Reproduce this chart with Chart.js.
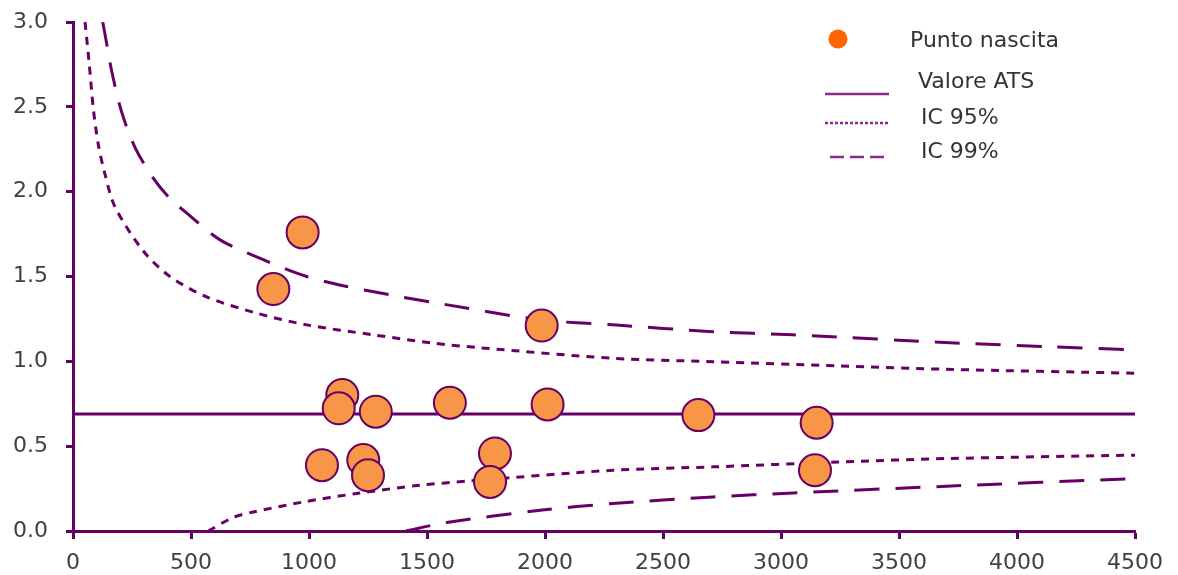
<!DOCTYPE html>
<html>
<head>
<meta charset="utf-8">
<script src="https://cdn.jsdelivr.net/npm/chart.js@4"></script>
<style>
  html, body { margin: 0; padding: 0; background: #fff; }
  #wrap { width: 1178px; height: 575px; }
</style>
</head>
<body>
<div id="wrap"><canvas id="funnelChart" width="1178" height="575"></canvas></div>
<script>
// Punti nascita: volume parti (x) e valore osservato (y)
const pointX = [973, 849, 1986, 1141, 1126, 1283, 1597, 2011, 2650, 3151, 1055, 1230, 1250, 1788, 1767, 3144];
const pointY = [1.76, 1.426, 1.211, 0.801, 0.723, 0.703, 0.756, 0.746, 0.683, 0.638, 0.388, 0.418, 0.329, 0.457, 0.289, 0.358];

// Valore ATS
const atsX = [0, 4500];
const atsY = [0.69, 0.69];

// Limiti di controllo
const up95X = [51, 69, 86, 107, 136, 178, 298, 411, 566, 778, 990, 1273, 1527, 1725, 2288, 2712, 3250, 3702, 4500];
const up95Y = [3.0, 2.75, 2.49, 2.28, 2.10, 1.91, 1.65, 1.50, 1.38, 1.284, 1.215, 1.156, 1.107, 1.08, 1.018, 0.998, 0.973, 0.953, 0.930];
const lo95X = [573, 679, 764, 976, 1202, 1470, 1682, 2288, 2712, 3250, 3702, 4500];
const lo95Y = [0, 0.08, 0.112, 0.171, 0.221, 0.27, 0.295, 0.358, 0.378, 0.407, 0.427, 0.447];
const up99X = [126, 143, 164, 206, 263, 340, 411, 482, 623, 806, 990, 1160, 1343, 1527, 1979, 2288, 2712, 3052, 3759, 4126, 4500];
const up99Y = [3.0, 2.87, 2.71, 2.47, 2.26, 2.08, 1.96, 1.874, 1.716, 1.599, 1.50, 1.441, 1.392, 1.347, 1.245, 1.215, 1.175, 1.156, 1.107, 1.087, 1.067];
const lo99X = [1410, 1583, 1979, 2288, 2712, 3052, 3702, 4500];
const lo99Y = [0, 0.05, 0.122, 0.162, 0.201, 0.224, 0.264, 0.309];

const xTicks = [0, 500, 1000, 1500, 2000, 2500, 3000, 3500, 4000, 4500];
const yTicks = [0, 0.5, 1.0, 1.5, 2.0, 2.5, 3.0];

const purple = '#660066';
const fontFamily = '"DejaVu Sans", sans-serif';

const pairs = (xs, ys) => xs.map((x, i) => ({ x: x, y: ys[i] }));

function curve(label, xs, ys, dash) {
  return {
    label: label,
    data: pairs(xs, ys),
    borderColor: purple,
    borderWidth: 3,
    borderDash: dash,
    borderCapStyle: 'butt',
    pointRadius: 0,
    tension: 0.3,
    fill: false
  };
}

// legenda disegnata a mano
const legendPlugin = {
  id: 'customLegend',
  afterDraw(chart) {
    const c = chart.ctx;
    c.save();
    c.fillStyle = '#ff6600';
    c.beginPath();
    c.arc(838, 39, 9.5, 0, Math.PI * 2);
    c.fill();

    c.strokeStyle = '#8a2a8a';
    c.lineWidth = 2.5;
    const seg = (y, dash, x0) => {
      c.setLineDash(dash);
      c.beginPath();
      c.moveTo(x0, y);
      c.lineTo(889, y);
      c.stroke();
    };
    seg(94, [], 825);
    seg(123, [3, 2], 825);
    seg(157, [14, 6], 830);
    c.setLineDash([]);

    c.fillStyle = '#333333';
    c.font = '22px ' + fontFamily;
    c.textBaseline = 'middle';
    c.textAlign = 'left';
    c.fillText('Punto nascita', 910, 41);
    c.fillText('Valore ATS', 918, 82);
    c.fillText('IC 95%', 921, 118);
    c.fillText('IC 99%', 921, 152);
    c.restore();
  }
};

const ctx = document.getElementById('funnelChart').getContext('2d');

new Chart(ctx, {
  type: 'line',
  data: {
    datasets: [
      {
        label: 'Punto nascita',
        data: pairs(pointX, pointY),
        showLine: false,
        pointRadius: 16,
        pointHoverRadius: 16,
        pointBackgroundColor: '#f79646',
        pointBorderColor: purple,
        pointBorderWidth: 2,
        backgroundColor: '#f79646',
        borderColor: purple
      },
      {
        label: 'Valore ATS',
        data: pairs(atsX, atsY),
        borderColor: purple,
        borderWidth: 3,
        pointRadius: 0,
        fill: false
      },
      curve('IC 95% sup', up95X, up95Y, [8, 7]),
      curve('IC 95% inf', lo95X, lo95Y, [8, 7]),
      curve('IC 99% sup', up99X, up99Y, [25, 16]),
      curve('IC 99% inf', lo99X, lo99Y, [25, 16])
    ]
  },
  options: {
    responsive: false,
    animation: false,
    layout: { padding: { top: 22, right: 43, left: 0, bottom: 0 } },
    plugins: {
      legend: { display: false },
      tooltip: { enabled: false }
    },
    scales: {
      x: {
        type: 'linear',
        min: 0,
        max: 4500,
        afterBuildTicks: axis => { axis.ticks = xTicks.map(v => ({ value: v })); },
        afterFit: axis => { axis.height = 44; },
        ticks: {
          color: '#404040',
          font: { family: fontFamily, size: 22 },
          padding: 11,
          maxRotation: 0,
          callback: v => String(v)
        },
        grid: {
          drawOnChartArea: false,
          drawTicks: true,
          tickLength: 8,
          tickWidth: 3,
          tickColor: purple
        },
        border: { display: true, color: purple, width: 3 }
      },
      y: {
        type: 'linear',
        min: 0,
        max: 3,
        afterBuildTicks: axis => { axis.ticks = yTicks.map(v => ({ value: v })); },
        afterFit: axis => {
          axis.width = 73;
          axis.paddingTop = 0;
          axis.paddingBottom = 0;
        },
        ticks: {
          color: '#404040',
          font: { family: fontFamily, size: 22 },
          padding: 18,
          callback: v => Number(v).toFixed(1)
        },
        grid: {
          drawOnChartArea: false,
          drawTicks: true,
          tickLength: 7,
          tickWidth: 3,
          tickColor: purple
        },
        border: { display: true, color: purple, width: 3 }
      }
    }
  },
  plugins: [legendPlugin]
});
</script>
</body>
</html>
